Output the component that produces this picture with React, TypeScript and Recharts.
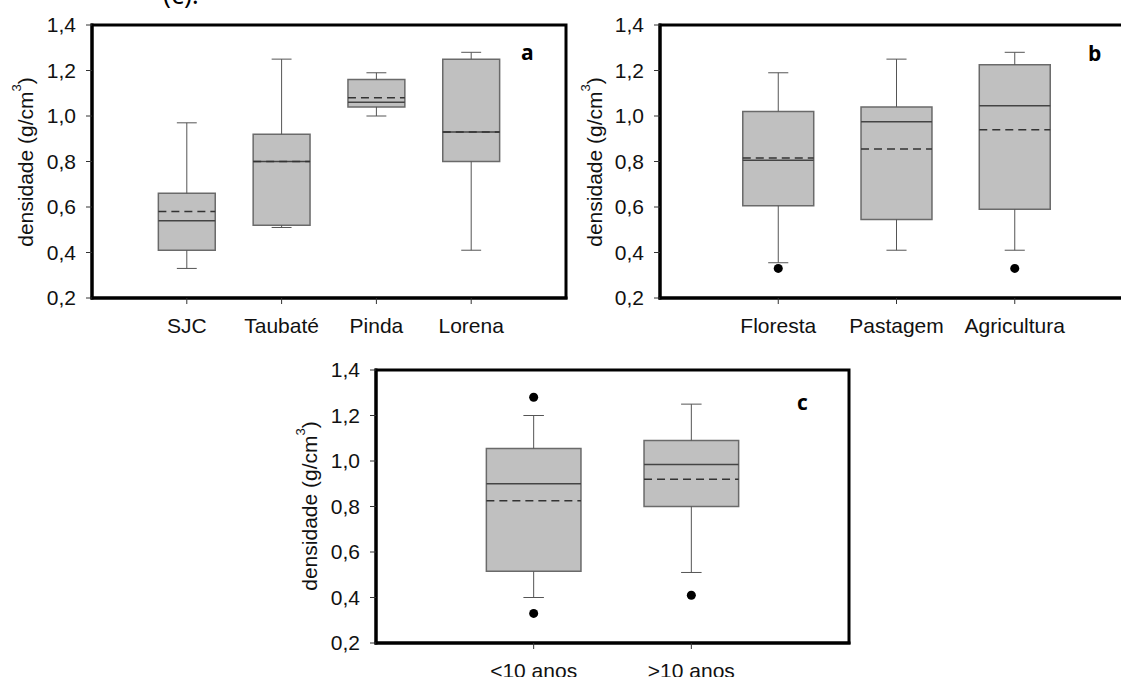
import React from "react";
import {
  ComposedChart,
  XAxis,
  YAxis,
  Scatter,
  ReferenceArea,
  ReferenceLine,
} from "recharts";

// painel a - municípios
const catsA = ["SJC", "Taubaté", "Pinda", "Lorena"];
const minA = [0.33, 0.51, 1.0, 0.41];
const q1A = [0.41, 0.52, 1.04, 0.8];
const medA = [0.54, 0.8, 1.06, 0.93];
const meanA = [0.58, 0.8, 1.08, 0.93];
const q3A = [0.66, 0.92, 1.16, 1.25];
const maxA = [0.97, 1.25, 1.19, 1.28];
const outA: { x: number; y: number }[] = [];

// painel b - uso do solo
const catsB = ["Floresta", "Pastagem", "Agricultura"];
const minB = [0.355, 0.41, 0.41];
const q1B = [0.605, 0.545, 0.59];
const medB = [0.805, 0.975, 1.045];
const meanB = [0.815, 0.855, 0.94];
const q3B = [1.02, 1.04, 1.225];
const maxB = [1.19, 1.25, 1.28];
const outB = [
  { x: 1, y: 0.33 },
  { x: 3, y: 0.33 },
];

// painel c - idade
const catsC = ["<10 anos", ">10 anos"];
const minC = [0.4, 0.51];
const q1C = [0.515, 0.8];
const medC = [0.9, 0.985];
const meanC = [0.825, 0.92];
const q3C = [1.055, 1.09];
const maxC = [1.2, 1.25];
const outC = [
  { x: 1, y: 1.28 },
  { x: 1, y: 0.33 },
  { x: 2, y: 0.41 },
];

const yTicks = [0.2, 0.4, 0.6, 0.8, 1.0, 1.2, 1.4];

const FONT = "'Liberation Sans', Arial, sans-serif";
const frame = { stroke: "#000", strokeWidth: 3, strokeLinecap: "square" as const };
const tickLine = { stroke: "#333", strokeWidth: 1 };
const tickStyle = { fontSize: 21, fill: "#111", fontFamily: FONT };

const W = 600;
const H = 340;
const Y_W = 60;

type PanelProps = {
  cats: string[];
  min: number[];
  q1: number[];
  med: number[];
  mean: number[];
  q3: number[];
  max: number[];
  outliers: { x: number; y: number }[];
  left: number;
  top: number;
  marginLeft: number;
  marginRight: number;
  cap: number;
};

// traço horizontal centrado no ponto (mediana / média)
const hLine = (w: number, dashed: boolean) => (props: any) => {
  const { cx, cy } = props;
  if (cx == null || cy == null) return <g />;
  return (
    <line
      x1={cx - w / 2}
      x2={cx + w / 2}
      y1={cy}
      y2={cy}
      stroke={dashed ? "#333" : "#444"}
      strokeWidth={1.5}
      strokeDasharray={dashed ? "8 5" : undefined}
    />
  );
};

function BoxPanel(p: PanelProps) {
  const n = p.cats.length;
  const half = 0.3;
  const ticks = p.cats.map((_, i) => i + 1);
  const unit = (W - p.marginLeft - Y_W - p.marginRight) / (n + 1);
  const boxPx = 2 * half * unit;
  const medRows = p.cats.map((_, i) => ({ x: i + 1, y: p.med[i] }));
  const meanRows = p.cats.map((_, i) => ({ x: i + 1, y: p.mean[i] }));
  return (
    <div style={{ position: "absolute", left: p.left, top: p.top }}>
      <ComposedChart
        width={W}
        height={H}
        margin={{ top: 25, right: p.marginRight, bottom: 0, left: p.marginLeft }}
      >
        <XAxis
          dataKey="x"
          type="number"
          domain={[0, n + 1]}
          allowDataOverflow
          ticks={ticks}
          tickFormatter={(v: number) => p.cats[v - 1] ?? ""}
          tick={tickStyle}
          tickSize={6}
          tickMargin={14}
          tickLine={tickLine}
          axisLine={frame}
          height={42}
          interval={0}
        />
        <YAxis
          type="number"
          domain={[0.2, 1.4]}
          allowDataOverflow
          ticks={yTicks}
          tickFormatter={(v: number) => v.toFixed(1).replace(".", ",")}
          tick={tickStyle}
          tickSize={6}
          tickMargin={10}
          tickLine={tickLine}
          axisLine={frame}
          width={Y_W}
          interval={0}
        />
        {p.cats.map((_, i) => {
          const x = i + 1;
          return (
            <React.Fragment key={"w" + i}>
              <ReferenceLine
                segment={[{ x, y: p.q3[i] }, { x, y: p.max[i] }]}
                stroke="#555"
                strokeWidth={1}
              />
              <ReferenceLine
                segment={[{ x, y: p.min[i] }, { x, y: p.q1[i] }]}
                stroke="#555"
                strokeWidth={1}
              />
              <ReferenceLine
                segment={[{ x: x - p.cap, y: p.max[i] }, { x: x + p.cap, y: p.max[i] }]}
                stroke="#555"
                strokeWidth={1}
              />
              <ReferenceLine
                segment={[{ x: x - p.cap, y: p.min[i] }, { x: x + p.cap, y: p.min[i] }]}
                stroke="#555"
                strokeWidth={1}
              />
            </React.Fragment>
          );
        })}
        {p.cats.map((_, i) => (
          <ReferenceArea
            key={"b" + i}
            x1={i + 1 - half}
            x2={i + 1 + half}
            y1={p.q1[i]}
            y2={p.q3[i]}
            fill="#c0c0c0"
            fillOpacity={1}
            stroke="#6a6a6a"
            strokeWidth={1.5}
          />
        ))}
        <ReferenceArea
          x1={0}
          x2={n + 1}
          y1={0.2}
          y2={1.4}
          fill="none"
          fillOpacity={0}
          stroke="#000"
          strokeWidth={3}
          ifOverflow="visible"
        />
        <Scatter
          data={medRows}
          dataKey="y"
          shape={hLine(boxPx, false)}
          isAnimationActive={false}
        />
        <Scatter
          data={meanRows}
          dataKey="y"
          shape={hLine(boxPx, true)}
          isAnimationActive={false}
        />
        {p.outliers.length > 0 && (
          <Scatter data={p.outliers} dataKey="y" fill="#000" isAnimationActive={false} />
        )}
      </ComposedChart>
    </div>
  );
}

function YTitle({ x, y }: { x: number; y: number }) {
  return (
    <svg
      width={40}
      height={220}
      style={{ position: "absolute", left: x - 20, top: y - 110 }}
    >
      <text
        transform="translate(20,110) rotate(-90)"
        textAnchor="middle"
        dominantBaseline="central"
        fontFamily={FONT}
        fontSize={21}
        fill="#111"
      >
        densidade (g/cm
        <tspan fontSize={13} dy={-9}>
          3
        </tspan>
        <tspan dy={9}>)</tspan>
      </text>
    </svg>
  );
}

const letterStyle: React.CSSProperties = {
  position: "absolute",
  fontFamily: "'Open Sans', 'DejaVu Sans', sans-serif",
  fontWeight: 700,
  fontSize: 21,
  lineHeight: "21px",
  color: "#000",
};

export default function App() {
  return (
    <div
      style={{
        position: "fixed",
        left: 0,
        top: 0,
        width: 1121,
        height: 677,
        overflow: "hidden",
        background: "#fff",
      }}
    >
      <svg width={300} height={20} style={{ position: "absolute", left: 0, top: 0 }}>
        <text x={163} y={4} fontFamily="'Open Sans', sans-serif" fontSize={27} fill="#000">
          (c).
        </text>
      </svg>
      <BoxPanel
        cats={catsA}
        min={minA}
        q1={q1A}
        med={medA}
        mean={meanA}
        q3={q3A}
        max={maxA}
        outliers={outA}
        left={0}
        top={0}
        marginLeft={32}
        marginRight={34}
        cap={0.105}
      />
      <BoxPanel
        cats={catsB}
        min={minB}
        q1={q1B}
        med={medB}
        mean={meanB}
        q3={q3B}
        max={maxB}
        outliers={outB}
        left={560}
        top={0}
        marginLeft={40}
        marginRight={27}
        cap={0.085}
      />
      <BoxPanel
        cats={catsC}
        min={minC}
        q1={q1C}
        med={medC}
        mean={meanC}
        q3={q3C}
        max={maxC}
        outliers={outC}
        left={276}
        top={345}
        marginLeft={40}
        marginRight={27}
        cap={0.065}
      />
      <YTitle x={25} y={162} />
      <YTitle x={594} y={162} />
      <YTitle x={309} y={506} />
      <div style={{ ...letterStyle, left: 521, top: 42 }}>a</div>
      <div style={{ ...letterStyle, left: 1088, top: 43 }}>b</div>
      <div style={{ ...letterStyle, left: 797, top: 392 }}>c</div>
    </div>
  );
}
